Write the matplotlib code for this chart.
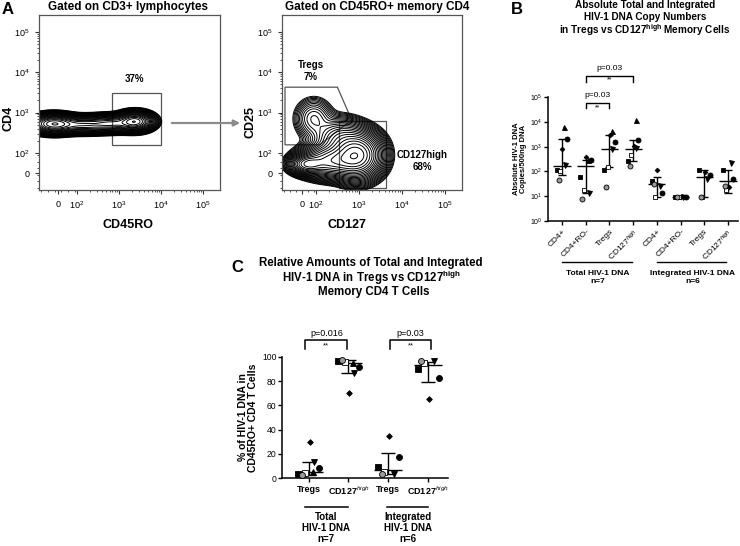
import numpy as np
import matplotlib
matplotlib.use('Agg')
import matplotlib.pyplot as plt
from matplotlib.patches import Rectangle, Polygon, FancyArrowPatch

plt.rcParams['font.family'] = ['Liberation Sans', 'DejaVu Sans']
plt.rcParams['mathtext.fontset'] = 'custom'
plt.rcParams['mathtext.rm'] = 'Liberation Sans'
plt.rcParams['mathtext.bf'] = 'Liberation Sans:bold'
plt.rcParams['mathtext.it'] = 'Liberation Sans:italic'

# ---------------- data ----------------
FLOW_TICK_LABELS = ['0', '$10^2$', '$10^3$', '$10^4$', '$10^5$']
# Panel A left: gaussian components of the CD4 vs CD45RO density (x, y in decade units)
A1_CX = [1.45, 2.15, 2.85, 3.38]
A1_CY = [2.72, 2.70, 2.73, 2.78]
A1_SX = [0.26, 0.35, 0.30, 0.20]
A1_SY = [0.11, 0.10, 0.10, 0.11]
A1_W = [1.0, 0.5, 0.5, 0.95]
A1_GATE_PCT = '37%'
# Panel A right: CD25 vs CD127 density
A2_CX = [2.95, 2.35, 1.80, 1.95, 2.55]
A2_CY = [1.95, 1.80, 1.72, 2.85, 2.35]
A2_SX = [0.28, 0.35, 0.20, 0.22, 0.30]
A2_SY = [0.28, 0.20, 0.12, 0.25, 0.25]
A2_W = [1.0, 0.6, 0.5, 0.08, 0.2]
A2_TREG_PCT = '7%'
A2_CD127_PCT = '68%'

B_CATS = ['CD4+', 'CD4+RO-', 'Tregs', 'CD127$^{high}$'] * 2
B_YTICKLABELS = ['$10^0$', '$10^1$', '$10^2$', '$10^3$', '$10^4$', '$10^5$']
# donors: 0 ^, 1 o, 2 diamond, 3 square, 4 open square, 5 grey circle, 6 v
B_TOTAL_DONORS = [0, 1, 2, 3, 4, 5, 6]
B_TOTAL_VALUES = [
    [6000, 2000, 800, 115, 100, 45, 180],
    [300, 300, 370, 60, 17, 8, 14],
    [4300, 1500, 3000, 115, 150, 23, 800],
    [12000, 1850, 1050, 270, 460, 165, 850],
]
B_INT_DONORS = [1, 2, 3, 4, 5, 6]
B_INT_VALUES = [
    [13, 115, 41, 9, 30, 25],
    [9, 9, 9, 9, 9, 9],
    [70, 95, 115, 9, 9, 50],
    [50, 23, 110, 18, 25, 210],
]
B_MED = [170, 165, 800, 800, 30, 9, 60, 40]
B_LO = [70, 13, 150, 270, 9, 9, 9, 13.5]
B_HI = [2000, 300, 3000, 1900, 60, 9, 115, 115]

C_CATS = ['Tregs', 'CD127$^{high}$', 'Tregs', 'CD127$^{high}$']
C_TOTAL_DONORS = [0, 1, 2, 3, 4, 5, 6]
C_TOTAL_TREGS = [5, 8.5, 30, 3, 4, 2.5, 13]
C_TOTAL_CD127 = [95, 91.5, 70, 97, 96, 97.5, 87]
C_INT_DONORS = [1, 2, 3, 4, 5, 6]
C_INT_TREGS = [17, 35, 9, 5, 3.5, 3.5]
C_INT_CD127 = [83, 65, 90, 95, 96.5, 96.9]
C_MED = [4.6, 95.2, 6.6, 93]
C_LO = [2.5, 87, 3, 79]
C_HI = [13, 97.5, 21, 96]

# ---------------- style ----------------
DONOR_MARKERS = ['^', 'o', 'D', 's', 's', 'o', 'v']
DONOR_FACE = ['black', 'black', 'black', 'black', 'white', '#9a9a9a', 'black']
DONOR_MS = [3.6, 3.6, 2.4, 3.3, 3.3, 3.6, 3.6]
DONOR_DX = [0.10, 0.22, 0.02, -0.22, -0.08, -0.14, 0.12]

W, H = 740, 546
fig = plt.figure(figsize=(7.4, 5.46), dpi=100)


def ax_px(l, t, r, b):
    return fig.add_axes([l / W, 1 - b / H, (r - l) / W, (b - t) / H])


def ftext(x, y, s, **kw):
    fig.text(x / W, 1 - y / H, s, **kw)


def minor_positions(lo_lin, hi_lin):
    pos = []
    for d in (2, 3, 4):
        for k in range(2, 10):
            pos.append(d + np.log10(k))
    pos += list(np.linspace(lo_lin, hi_lin, 6))
    return pos


def flow_panel(l, r, xlim, x0, cx, cy, sx, sy, w):
    ax = ax_px(l, 15, r, 190)
    ylim = (1.08, 5.42)
    xs = np.linspace(xlim[0], xlim[1], 500)
    ys = np.linspace(ylim[0], ylim[1], 500)
    X, Y = np.meshgrid(xs, ys)
    Z = np.zeros_like(X)
    for a, b, c, d, e in zip(cx, cy, sx, sy, w):
        Z += e * np.exp(-0.5 * (((X - a) / c) ** 2 + ((Y - b) / d) ** 2))
    levels = Z.max() * np.geomspace(0.006, 0.97, 24)
    ax.contour(X, Y, Z, levels=levels, colors='black', linewidths=0.7)
    ax.set_xlim(*xlim)
    ax.set_ylim(*ylim)
    xt = [x0, 2, 3, 4, 5]
    yt = [1.5, 2, 3, 4, 5]
    ax.set_xticks(xt)
    ax.set_xticklabels(FLOW_TICK_LABELS, fontsize=6.5)
    ax.set_yticks(yt)
    ax.set_yticklabels(FLOW_TICK_LABELS, fontsize=6.5)
    ax.set_xticks([p for p in minor_positions(xlim[0] + 0.05, 1.95) if xlim[0] < p < xlim[1]], minor=True)
    ax.set_yticks([p for p in minor_positions(ylim[0] + 0.05, 1.95) if ylim[0] < p < ylim[1]], minor=True)
    ax.tick_params(which='major', direction='out', length=3, width=0.8, color='#333333', pad=4)
    ax.tick_params(which='minor', direction='out', length=1.6, width=0.6, color='#333333')
    for s in ax.spines.values():
        s.set_color('#555555')
        s.set_linewidth(0.9)
    return ax


# ---------------- panel A ----------------
ftext(8, 9, 'A', fontsize=12, fontweight='bold', ha='center', va='center')
a1 = flow_panel(39, 220, (1.1, 5.4), 1.55, A1_CX, A1_CY, A1_SX, A1_SY, A1_W)
a1.add_patch(Rectangle((2.83, 2.2), 4.0 - 2.83, 3.49 - 2.2, fill=False, ec='#555555', lw=0.9))
a1.text(3.36, 3.84, A1_GATE_PCT, fontsize=7, fontweight='bold', ha='center', va='center')
ftext(128, 7, 'Gated on CD3+ lymphocytes', fontsize=8.5, fontweight='bold', ha='center', va='center')
ftext(128, 225, 'CD45RO', fontsize=9, fontweight='bold', ha='center', va='center')
ftext(8, 118, 'CD4', fontsize=9, fontweight='bold', ha='center', va='center', rotation=90)

a2 = flow_panel(282, 462, (1.21, 5.4), 1.67, A2_CX, A2_CY, A2_SX, A2_SY, A2_W)
a2.add_patch(Polygon([(1.28, 3.63), (2.50, 3.63), (2.83, 2.82), (2.09, 2.2), (1.28, 2.2)],
                     closed=True, fill=False, ec='#555555', lw=0.9))
a2.add_patch(Rectangle((2.54, 1.12), 3.63 - 2.54, 2.80 - 1.12, fill=False, ec='#555555', lw=0.9))
a2.text(1.88, 4.03, 'Tregs\n' + A2_TREG_PCT, fontsize=7, fontweight='bold', ha='center', va='center',
        linespacing=1.3)
a2.text(4.47, 1.8, 'CD127high\n' + A2_CD127_PCT, fontsize=7, fontweight='bold', ha='center', va='center',
        linespacing=1.3)
ftext(377, 7, 'Gated on CD45RO+ memory CD4', fontsize=8.5, fontweight='bold', ha='center', va='center')
ftext(347, 225, 'CD127', fontsize=9, fontweight='bold', ha='center', va='center')
ftext(250, 122, 'CD25', fontsize=9, fontweight='bold', ha='center', va='center', rotation=90)

arrow = FancyArrowPatch((169 / W, 1 - 123 / H), (243 / W, 1 - 123 / H), transform=fig.transFigure,
                        arrowstyle='-|>', mutation_scale=9, color='#8c8c8c', lw=1.6)
fig.add_artist(arrow)


def draw_group(ax, x, vals, donors, med, lo, hi, medw, capw, scale):
    for v, d in zip(vals, donors):
        ax.plot(x + DONOR_DX[d] * scale, v, marker=DONOR_MARKERS[d], ms=DONOR_MS[d] * scale,
                mfc=DONOR_FACE[d], mec='black', mew=0.6, ls='none', zorder=3, clip_on=False)
    kw = dict(color='black', lw=1.0, solid_capstyle='butt', zorder=2, clip_on=False)
    ax.plot([x - medw, x + medw], [med, med], **kw)
    ax.plot([x, x], [lo, hi], **kw)
    ax.plot([x - capw, x + capw], [lo, lo], **kw)
    ax.plot([x - capw, x + capw], [hi, hi], **kw)


def style_prism(ax):
    for s in ('top', 'right'):
        ax.spines[s].set_visible(False)
    for s in ('left', 'bottom'):
        ax.spines[s].set_linewidth(1.1)
    ax.tick_params(direction='out', length=3, width=1.0)


# ---------------- panel B ----------------
ftext(517, 9, 'B', fontsize=12, fontweight='bold', ha='center', va='center')
ftext(645, 5.5, 'Absolute Total and Integrated', fontsize=7.2, fontweight='bold', ha='center', va='center')
ftext(645, 16.5, 'HIV-1 DNA Copy Numbers', fontsize=7.2, fontweight='bold', ha='center', va='center')
ftext(645, 30, 'in Tregs vs CD127$^{\\mathbf{high}}$ Memory Cells', fontsize=7.2, fontweight='bold',
      ha='center', va='center')
bx = ax_px(548, 97, 738, 221)
bx.set_yscale('log')
bx.set_ylim(1, 1e5)
bx.set_xlim(0.41, 8.42)
style_prism(bx)
bx.minorticks_off()
bx.set_yticks([1, 10, 100, 1e3, 1e4, 1e5])
bx.set_yticklabels(B_YTICKLABELS, fontsize=5)
bx.tick_params(axis='y', pad=1)
bx.set_xticks(range(1, 9))
bx.set_xticklabels(B_CATS, fontsize=6, rotation=45, ha='right', rotation_mode='anchor')
bx.tick_params(axis='x', pad=2)
for i in range(4):
    draw_group(bx, i + 1, B_TOTAL_VALUES[i], B_TOTAL_DONORS, B_MED[i], B_LO[i], B_HI[i], 0.36, 0.17, 1.0)
    draw_group(bx, i + 5, B_INT_VALUES[i], B_INT_DONORS, B_MED[i + 4], B_LO[i + 4], B_HI[i + 4], 0.36, 0.17, 1.0)
bx.set_ylabel('Absolute HIV-1 DNA\nCopies/500ng DNA', fontsize=5.5, fontweight='bold', labelpad=2,
              linespacing=1.1)
# significance brackets
for (x1, x2, ytop, ydrop, yp, ys) in [(2, 4, 5.85, 5.6, 6.15, 5.68), (2, 3, 4.76, 4.56, 5.08, 4.55)]:
    bx.plot([x1, x1, x2, x2], [10 ** ydrop, 10 ** ytop, 10 ** ytop, 10 ** ydrop], color='black', lw=1.0,
            clip_on=False)
    bx.text((x1 + x2) / 2, 10 ** yp, 'p=0.03', fontsize=6, ha='center', va='center')
    bx.text((x1 + x2) / 2, 10 ** ys, '**', fontsize=5, ha='center', va='center')
for (x1, x2, xc, lab) in [(1.0, 3.95, 2.5, 'Total HIV-1 DNA\nn=7'), (5.0, 7.9, 6.5, 'Integrated HIV-1 DNA\nn=6')]:
    bx.plot([x1, x2], [10 ** -1.65, 10 ** -1.65], color='black', lw=1.0, clip_on=False)
    bx.text(xc, 10 ** -1.98, lab, fontsize=6, fontweight='bold', ha='center', va='top', linespacing=1.2)

# ---------------- panel C ----------------
ftext(237, 267, 'C', fontsize=12, fontweight='bold', ha='center', va='center')
ftext(371, 263, 'Relative Amounts of Total and Integrated', fontsize=8.3, fontweight='bold',
      ha='center', va='center')
ftext(371, 278, 'HIV-1 DNA in Tregs vs CD127$^{\\mathbf{high}}$', fontsize=8.3, fontweight='bold',
      ha='center', va='center')
ftext(374, 292, 'Memory CD4 T Cells', fontsize=8.3, fontweight='bold', ha='center', va='center')
cx = ax_px(282, 357, 448, 478)
cx.set_ylim(0, 100)
cx.set_xlim(0.33, 4.5)
style_prism(cx)
cx.set_yticks([0, 20, 40, 60, 80, 100])
cx.tick_params(axis='y', labelsize=6.2, pad=1)
cx.set_xticks([1, 2, 3, 4])
cx.set_xticklabels(C_CATS, fontsize=6.5, fontweight='bold')
cx.tick_params(axis='x', pad=2)
cx.set_ylabel('% of HIV-1 DNA in\nCD45RO+ CD4 T Cells', fontsize=7.5, fontweight='bold', labelpad=3,
              linespacing=1.0)
groups = [(C_TOTAL_TREGS, C_TOTAL_DONORS), (C_TOTAL_CD127, C_TOTAL_DONORS),
          (C_INT_TREGS, C_INT_DONORS), (C_INT_CD127, C_INT_DONORS)]
for i, (vals, dons) in enumerate(groups):
    draw_group(cx, i + 1, vals, dons, C_MED[i], C_LO[i], C_HI[i], 0.35, 0.18, 1.2)
for (x1, x2, lab) in [(0.92, 1.97, 'p=0.016'), (3.05, 4.08, 'p=0.03')]:
    cx.plot([x1, x1, x2, x2], [107, 114, 114, 107], color='black', lw=1.1, clip_on=False)
    cx.text((x1 + x2) / 2, 119.5, lab, fontsize=6.5, ha='center', va='center')
    cx.text((x1 + x2) / 2, 109.5, '**', fontsize=5.5, ha='center', va='center')
for (x1, x2, lab) in [(0.9, 1.98, 'Total\nHIV-1 DNA\nn=7'), (2.98, 4.0, 'Integrated\nHIV-1 DNA\nn=6')]:
    cx.plot([x1, x2], [-24, -24], color='black', lw=1.1, clip_on=False)
    cx.text((x1 + x2) / 2, -28, lab, fontsize=7, fontweight='bold', ha='center', va='top', linespacing=1.15)

fig.savefig('out.png', dpi=100)
